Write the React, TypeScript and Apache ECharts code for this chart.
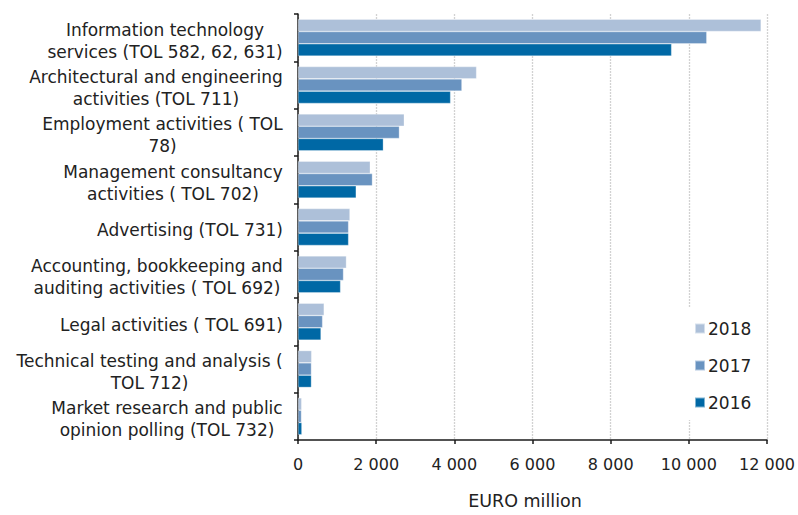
import React, { useEffect, useRef } from "react";
import * as echarts from "echarts";

const categories = [
  "Information technology\nservices (TOL 582, 62, 631)",
  "Architectural and engineering\nactivities (TOL 711)",
  "Employment activities ( TOL\n78)",
  "Management consultancy\nactivities ( TOL 702)",
  "Advertising (TOL 731)",
  "Accounting, bookkeeping and\nauditing activities ( TOL 692)",
  "Legal activities ( TOL 691)",
  "Technical testing and analysis (\nTOL 712)",
  "Market research and public\nopinion polling (TOL 732)",
];

const values2018 = [11850, 4570, 2720, 1850, 1330, 1240, 670, 350, 95];
const values2017 = [10460, 4195, 2595, 1905, 1295, 1165, 630, 345, 90];
const values2016 = [9560, 3905, 2185, 1490, 1295, 1090, 590, 345, 100];

const seriesNames = ["2018", "2017", "2016"];
const seriesColors = ["#adc0d9", "#6993c0", "#0068a5"];

const xTicks = { min: 0, max: 12000, interval: 2000 };

const FONT = "'DejaVu Sans', sans-serif";
const TXT = "#222222";
const CAT_SIZE = 17;

function measure(text: string, size: number): number {
  const c = document.createElement("canvas");
  const ctx = c.getContext("2d");
  if (!ctx) return text.length * size * 0.55;
  ctx.font = `${size}px 'DejaVu Sans'`;
  return ctx.measureText(text).width;
}

export default function App() {
  const ref = useRef<HTMLDivElement>(null);
  useEffect(() => {
    if (!ref.current) return;
    const chart = echarts.init(ref.current, undefined, { renderer: "svg" });
    const data = [values2018, values2017, values2016];
    const rich: Record<string, any> = {};
    categories.forEach((cat, i) => {
      const w = Math.ceil(Math.max(...cat.split("\n").map((l) => measure(l, CAT_SIZE))));
      rich["c" + i] = {
        width: w,
        align: "center",
        fontSize: CAT_SIZE,
        lineHeight: 22,
        color: TXT,
        fontFamily: FONT,
      };
    });
    chart.setOption({
      animation: false,
      backgroundColor: "#ffffff",
      textStyle: { fontFamily: FONT },
      grid: { left: 298, right: 31, top: 14, bottom: 64, containLabel: false },
      legend: {
        data: seriesNames,
        orient: "vertical",
        left: 686,
        top: 308,
        padding: [12, 8, 9, 8],
        itemGap: 20,
        itemWidth: 10,
        itemHeight: 10,
        icon: "rect",
        backgroundColor: "#ffffff",
        textStyle: { color: TXT, fontSize: 17, fontFamily: FONT, padding: [0, 0, 0, -2] },
      },
      xAxis: {
        type: "value",
        min: xTicks.min,
        max: xTicks.max,
        interval: xTicks.interval,
        name: "EURO million",
        nameLocation: "middle",
        nameGap: 52,
        nameTextStyle: { color: TXT, fontSize: 17.5, fontFamily: FONT, padding: [0, 15, 0, 0] },
        axisLine: { show: true, lineStyle: { color: "#1a1a1a", width: 1.5 } },
        axisTick: { show: true, length: 4, lineStyle: { color: "#1a1a1a", width: 1.5 } },
        axisLabel: {
          color: TXT,
          fontSize: 16,
          fontFamily: FONT,
          margin: 16,
          formatter: (v: number) => String(v).replace(/\B(?=(\d{3})+(?!\d))/g, " "),
        },
        splitLine: { show: true, lineStyle: { color: "#d2d2d2", type: [2, 1], width: 1.3 } },
      },
      yAxis: {
        type: "category",
        data: categories,
        inverse: true,
        axisLine: { show: true, lineStyle: { color: "#1a1a1a", width: 1.5 } },
        axisTick: { show: true, length: 4, interval: 0, lineStyle: { color: "#1a1a1a", width: 1.5 } },
        axisLabel: {
          interval: 0,
          color: TXT,
          fontSize: CAT_SIZE,
          fontFamily: FONT,
          lineHeight: 22,
          margin: 15,
          align: "right",
          padding: [6, 0, 0, 0],
          rich,
          formatter: (value: string, index: number) =>
            value
              .split("\n")
              .map((l) => `{c${index}|${l}}`)
              .join("\n"),
        },
        splitLine: { show: false },
      },
      series: seriesNames.map((name, i) => ({
        name,
        type: "bar",
        data: data[i],
        barGap: "0%",
        barCategoryGap: "22%",
        itemStyle: { color: seriesColors[i], borderColor: "rgba(255,255,255,0.5)", borderWidth: 0.6 },
      })),
    });
    return () => chart.dispose();
  }, []);
  return <div ref={ref} style={{ width: 798, height: 515, position: "absolute", left: 0, top: 0 }} />;
}
